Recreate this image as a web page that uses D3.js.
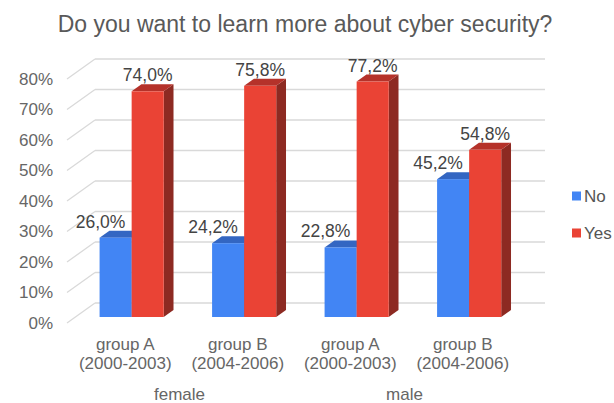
<!DOCTYPE html>
<html>
<head>
<meta charset="utf-8">
<script src="https://cdn.jsdelivr.net/npm/d3@7"></script>
<style>
  body { margin: 0; background: #fff; }
  text { font-family: "Liberation Sans", Arial, sans-serif; }
</style>
</head>
<body>
<div id="chart"></div>
<script>
const groups = ["group A|(2000-2003)", "group B|(2004-2006)", "group A|(2000-2003)", "group B|(2004-2006)"];
const groupKeys = ["fA", "fB", "mA", "mB"];
const genders = ["female", "male"];
const seriesNames = ["No", "Yes"];
const noValues = [26.0, 24.2, 22.8, 45.2];
const yesValues = [74.0, 75.8, 77.2, 54.8];
const yTicks = [0, 10, 20, 30, 40, 50, 60, 70, 80];

const width = 614, height = 403;
const depthX = 28, depthY = -20;   // offset of the back wall
const z0 = 0.3, z1 = 0.65;         // bar front/back depth

const colors = { No: "#4285f4", Yes: "#ea4335" };
const topColors = { No: "#3366c2", Yes: "#b5322a" };
const sideColors = { No: "#2a55a4", Yes: "#8d2a22" };

const svg = d3.select("#chart").append("svg")
  .attr("width", width).attr("height", height);

const x0 = d3.scaleBand().domain(groupKeys).range([67, 517])
  .paddingInner(0.43).paddingOuter(0.215);
const x1 = d3.scaleBand().domain(seriesNames).range([0, x0.bandwidth()]);
const y = d3.scaleLinear().domain([0, 80]).range([323, 79]);

// title
svg.append("text")
  .attr("x", 305).attr("y", 32)
  .attr("text-anchor", "middle")
  .attr("font-size", 23).attr("fill", "#595959")
  .text("Do you want to learn more about cyber security?");

// grid: back wall + left wall
const grid = svg.append("g").attr("stroke", "#d9d9d9").attr("stroke-width", 1.3).attr("fill", "none");
yTicks.forEach(t => {
  grid.append("line")
    .attr("x1", x0.range()[0] + depthX).attr("x2", x0.range()[1] + depthX)
    .attr("y1", y(t) + depthY).attr("y2", y(t) + depthY);
  grid.append("line")
    .attr("x1", x0.range()[0]).attr("y1", y(t))
    .attr("x2", x0.range()[0] + depthX).attr("y2", y(t) + depthY);
});

// y tick labels
svg.append("g").selectAll("text").data(yTicks).join("text")
  .attr("x", 53).attr("y", d => y(d))
  .attr("dy", "0.35em")
  .attr("text-anchor", "end")
  .attr("font-size", 17).attr("fill", "#666")
  .text(d => d + "%");

// bars
const rows = groupKeys.map((k, i) => ({ key: k, No: noValues[i], Yes: yesValues[i] }));
const bars = [];
rows.forEach(r => seriesNames.forEach(s => bars.push({ key: r.key, s, v: r[s] })));

const fmt = v => v.toFixed(1).replace(".", ",") + "%";
const pt = (px, py, z) => [px + depthX * z, py + depthY * z];

const barG = svg.append("g");
bars.forEach(b => {
  const xl = x0(b.key) + x1(b.s);
  const xr = xl + x1.bandwidth();
  const yt = y(b.v), yb = y(0);
  const g = barG.append("g");
  // side face
  g.append("polygon")
    .attr("points", [pt(xr, yt, z0), pt(xr, yt, z1), pt(xr, yb, z1), pt(xr, yb, z0)].join(" "))
    .attr("fill", sideColors[b.s]);
  // top face
  g.append("polygon")
    .attr("points", [pt(xl, yt, z0), pt(xl, yt, z1), pt(xr, yt, z1), pt(xr, yt, z0)].join(" "))
    .attr("fill", topColors[b.s]);
  // front face
  const f = pt(xl, yt, z0);
  g.append("rect")
    .attr("x", f[0]).attr("y", f[1])
    .attr("width", xr - xl).attr("height", yb - yt)
    .attr("fill", colors[b.s]);
});

// value labels
bars.forEach(b => {
  const xl = x0(b.key) + x1(b.s);
  const back = pt(xl, y(b.v), z1);
  const front = pt(xl, y(b.v), z0);
  const lx = b.s === "Yes" ? front[0] + x1.bandwidth() / 2 : front[0] + 1;
  svg.append("text")
    .attr("x", lx).attr("y", back[1] - 3)
    .attr("text-anchor", "middle")
    .attr("font-size", 17.5).attr("fill", "#444")
    .text(fmt(b.v));
});

// category labels
const catG = svg.append("g");
groupKeys.forEach((k, i) => {
  const cx = x0(k) + x0.bandwidth() / 2 + 2;
  const lines = groups[i].split("|");
  const t = catG.append("text")
    .attr("text-anchor", "middle").attr("font-size", 17).attr("fill", "#666");
  t.append("tspan").attr("x", cx).attr("y", 350).text(lines[0]);
  t.append("tspan").attr("x", cx).attr("y", 369).text(lines[1]);
});
genders.forEach((gname, i) => {
  const a = x0(groupKeys[i * 2]), b = x0(groupKeys[i * 2 + 1]);
  const cx = (a + b + x0.bandwidth()) / 2;
  svg.append("text")
    .attr("x", cx).attr("y", 400)
    .attr("text-anchor", "middle").attr("font-size", 17).attr("fill", "#666")
    .text(gname);
});

// legend
const legend = svg.append("g").selectAll("g").data(seriesNames).join("g")
  .attr("transform", (d, i) => `translate(572, ${196 + i * 37})`);
legend.append("rect")
  .attr("x", 0).attr("y", -4.5).attr("width", 9).attr("height", 9)
  .attr("fill", d => colors[d]);
legend.append("text")
  .attr("x", 12).attr("dy", "0.35em")
  .attr("font-size", 17).attr("fill", "#555")
  .text(d => d);
</script>
</body>
</html>
